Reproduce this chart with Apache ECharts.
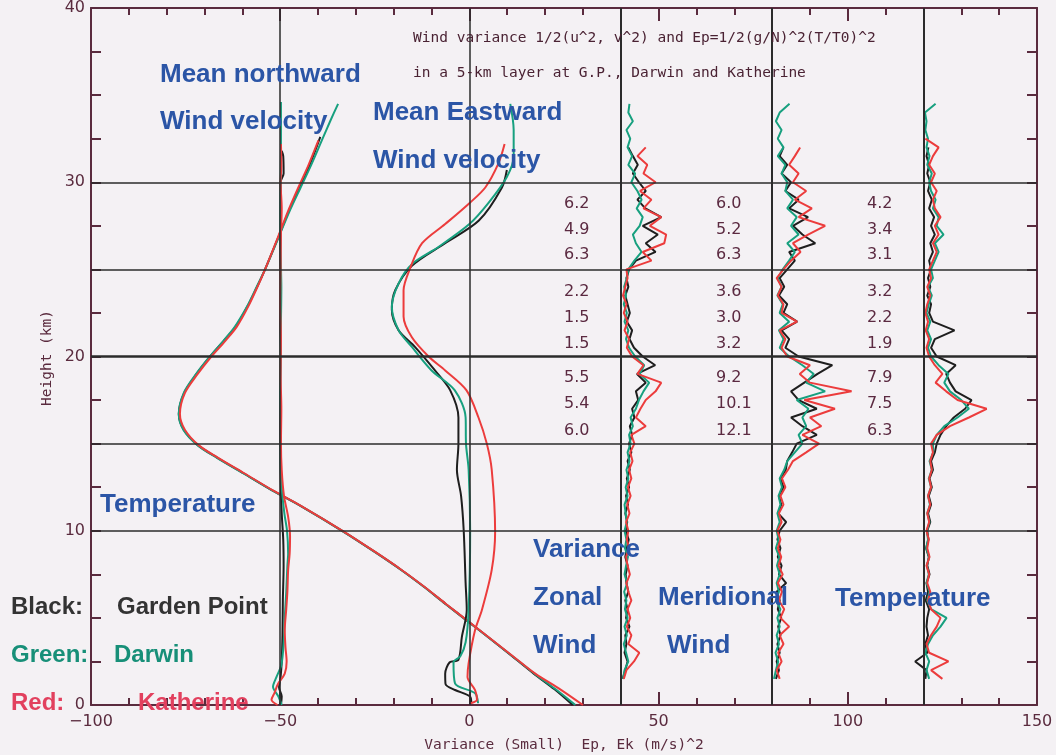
<!DOCTYPE html>
<html><head><meta charset="utf-8">
<script src="https://cdn.jsdelivr.net/npm/echarts/dist/echarts.min.js"></script>
<style>html,body{margin:0;padding:0;background:#f4f1f4}#c{width:1056px;height:755px}</style>
</head><body><div id="c"></div>
<script>
// ---------------- DATA ----------------
// Temperature profiles [height km, temperature °C]
const tempProfileBlack = [[0,27.3],[0.9,22.5],[1.8,17.0],[2.8,11.3],[3.8,5.5],[4.8,-0.4],[5.8,-6.3],[6.8,-12.1],[7.75,-18.0],[8.8,-25.1],[9.94,-33.2],[11.4,-44.4],[12.3,-52.0],[13.3,-59.7],[14.2,-66.7],[14.9,-71.7],[15.8,-75.5],[16.7,-76.8],[17.9,-75.4],[19.0,-72.1],[20.0,-68.5],[20.9,-64.9],[21.7,-61.8],[22.85,-58.7],[24.0,-56.1],[25.0,-54.0],[26.9,-50.4],[28.3,-47.8],[29.7,-44.9],[31.0,-42.2],[32.6,-39.4]];
const tempProfileGreen = [[0,28.0],[0.9,22.8],[1.8,17.2],[2.8,11.4],[3.8,5.5],[4.8,-0.4],[5.8,-6.3],[6.8,-12.1],[7.75,-18.0],[8.8,-25.1],[9.94,-33.2],[11.4,-44.4],[12.3,-52.0],[13.3,-59.8],[14.2,-66.8],[14.9,-71.8],[15.8,-75.6],[16.7,-76.8],[17.9,-75.5],[19.0,-72.2],[20.0,-68.6],[20.9,-65.0],[21.7,-62.0],[22.85,-58.8],[24.0,-56.2],[25.0,-54.0],[26.9,-50.3],[28.3,-47.6],[29.7,-44.6],[31.0,-41.8],[32.4,-39.0],[33.5,-36.8],[34.5,-34.7]];
const tempProfileRed = [[0,30.0],[0.9,24.0],[1.8,17.4],[2.8,11.5],[3.8,5.6],[4.8,-0.3],[5.8,-6.2],[6.8,-12.0],[7.75,-17.9],[8.8,-25.0],[9.94,-33.1],[11.4,-44.3],[12.3,-51.8],[13.3,-59.5],[14.2,-66.5],[14.9,-71.5],[15.8,-75.2],[16.7,-76.5],[17.9,-75.2],[19.0,-71.8],[20.0,-68.2],[20.9,-64.5],[21.7,-61.5],[22.85,-58.5],[24.0,-56.0],[25.0,-54.0],[26.9,-50.5],[28.3,-48.0],[29.7,-45.2],[31.0,-42.5],[32.4,-39.9]];

// Mean northward wind [height km, m/s]
const northBlack = [[0,0.2],[0.5,0.4],[1.0,-0.3],[1.6,0.1],[2.5,0.4],[4,0.6],[6,0.7],[8,0.9],[9.5,0.8],[11,0.4],[13,0.1],[15,0],[18,0],[20,0.1],[22,0],[24,0.1],[26,0],[28,0.1],[30,0.1],[30.5,0.9],[31.5,0.8],[31.8,0.4]];
const northGreen = [[0,0.4],[0.5,-0.5],[1.05,-1.9],[1.6,-1.0],[2.3,0.3],[3.5,0.9],[5,1.2],[6.5,1.6],[8.0,1.9],[8.7,2.1],[10,1.8],[11,1.1],[12.5,0.4],[14,0.1],[16,0.2],[18,0],[20,0.1],[22,0.2],[24,0.3],[26,0.1],[28,0],[30,0.1],[32,0.2],[34.6,0.2]];
const northRed = [[0,-0.7],[0.3,-2.3],[0.7,-1.5],[1.2,-0.6],[1.8,1.2],[2.5,1.7],[3.3,1.4],[4.3,1.2],[5.5,1.6],[6.5,1.9],[7.75,2.1],[8.7,2.5],[9.7,2.6],[10.8,2.1],[12.0,1.0],[13.5,0.4],[15,0.2],[17,0.3],[19,0.1],[21,0.2],[23,0],[25,0.1],[27,0.2],[28.5,0.4],[30,0.1],[31,0.3],[32.2,0.2]];

// Mean eastward wind [height km, m/s]
const eastBlack = [[0.1,0.5],[0.48,0.2],[0.86,-3.8],[1.2,-6.3],[1.8,-6.4],[2.45,-5.2],[2.6,-2.9],[3.9,-2.0],[5.45,-0.7],[7.0,-1.0],[10.0,-1.5],[12.0,-2.2],[13.5,-3.3],[15.0,-2.9],[16.5,-2.9],[18.07,-5.1],[19.2,-9.1],[20.55,-14.4],[21.5,-18.7],[22.7,-20.5],[23.8,-19.6],[25.2,-15.2],[26.5,-6.4],[27.8,2.5],[29.7,8.6],[30.7,9.9]];
const eastGreen = [[0.1,2.3],[0.67,1.5],[1.24,-3.8],[2.45,-4.2],[2.8,-2.4],[3.6,-1.0],[5.45,-0.2],[10.0,0.2],[13.5,-0.2],[15.0,-0.9],[16.5,-1.0],[18.07,-3.9],[19.2,-10.0],[20.55,-15.2],[21.5,-18.7],[22.85,-20.5],[24.2,-18.7],[25.3,-15.2],[26.3,-8.1],[27.6,0],[28.8,5.0],[30.3,9.9],[31.5,11.7],[33.0,11.7],[34.5,10.8]];
const eastRed = [[0.1,0.3],[0.3,2.0],[0.86,1.5],[1.6,-0.5],[2.4,-0.2],[4.3,1.5],[5.45,3.3],[7.75,5.9],[9.94,6.8],[13.5,5.9],[15.0,4.6],[16.5,2.4],[18.07,-0.8],[19.2,-6.4],[20.0,-10.8],[21.1,-15.2],[22.3,-17.4],[23.8,-17.4],[25.1,-15.6],[26.5,-12.5],[27.6,-6.4],[28.8,0],[29.7,4.2],[31.1,7.7],[32.2,9.3]];

// Heights of variance profiles (km)
const varHeights = [1.5,2.0,2.5,3.0,3.5,4.0,4.5,5.0,5.5,6.0,6.5,7.0,7.5,8.0,8.5,9.0,9.5,10.0,10.5,11.0,11.5,12.0,12.5,13.0,13.5,14.0,14.5,15.0,15.5,16.0,16.5,17.0,17.5,18.0,18.5,19.0,19.5,20.0,20.5,21.0,21.5,22.0,22.5,23.0,23.5,24.0,24.5,25.0,25.5,26.0,26.5,27.0,27.5,28.0,28.5,29.0,29.5,30.0,30.5,31.0,31.5,32.0,32.5,33.0,33.5,34.0,34.5,35.0];

// Zonal wind variance (small units)
const zonalVarBlack = [0.5,1.2,1.8,1.0,1.5,1.2,2.3,1.4,1.8,1.2,2.0,1.5,1.3,1.8,1.2,1.6,2.1,1.3,1.7,1.2,1.9,1.4,2.2,1.6,2.4,1.8,2.8,2.2,3.0,2.4,3.6,3.0,4.6,4.0,6.6,4.3,9.1,5.8,3.5,2.3,3.0,1.6,2.4,1.8,1.2,2.0,1.5,2.2,4.0,9.2,6.6,9.8,5.8,10.7,6.5,4.4,6.6,4.8,3.2,4.5,3.2,2.0,null,null,null,null,null,null];
const zonalVarGreen = [0.6,1.0,2.0,1.4,0.8,1.6,1.0,1.8,1.1,1.5,0.9,1.7,1.0,1.4,1.9,1.1,1.5,1.0,1.6,1.3,1.0,1.8,1.3,2.0,1.5,2.3,1.8,2.6,2.2,3.2,2.6,4.0,4.8,6.0,7.5,5.0,6.2,3.8,2.2,1.4,2.0,1.0,1.6,0.8,1.4,0.9,1.6,2.0,3.6,5.5,4.0,3.2,5.0,5.8,4.2,5.5,4.4,2.8,3.8,2.0,3.0,1.8,2.5,1.5,3.2,2.0,2.3,null];
const zonalVarRed = [0.8,1.5,3.5,4.9,2.0,2.8,1.6,2.5,1.8,2.8,2.0,1.5,2.4,1.8,1.4,2.2,1.6,2.0,1.4,2.3,1.7,2.6,1.9,2.8,2.2,3.1,2.5,3.6,2.8,6.6,4.0,5.2,6.6,9.2,10.7,4.4,6.0,3.0,1.6,2.2,1.0,1.8,0.8,1.5,0.6,1.2,1.8,1.5,8.1,5.8,11.5,12.0,7.7,10.7,6.0,8.1,5.1,9.2,6.0,7.0,4.4,6.6,null,null,null,null,null,null];

// Meridional wind variance
const merVarBlack = [1.0,1.8,1.2,2.0,1.4,2.2,1.6,2.4,1.5,2.0,1.2,3.7,1.8,2.5,1.5,2.2,1.4,2.0,3.7,1.6,2.4,1.8,3.0,2.2,3.6,4.0,5.3,6.5,11.8,8.0,5.0,11.8,7.0,5.0,8.5,12.0,15.9,7.0,3.5,4.5,2.5,6.6,3.0,4.0,1.8,3.2,2.0,4.0,6.0,4.5,11.4,8.0,5.5,9.5,4.5,7.0,3.5,5.0,2.5,4.0,2.0,3.0,null,null,null,null,null,null];
const merVarGreen = [0.5,1.0,1.6,0.9,1.8,1.2,2.0,1.4,2.2,1.0,1.8,1.2,2.0,1.3,1.9,1.0,1.7,1.2,2.0,1.4,2.2,1.7,2.6,2.0,3.2,4.0,6.0,8.0,7.0,9.0,8.0,9.6,6.5,14.0,9.0,11.0,8.0,4.5,2.0,3.0,1.8,4.5,2.0,2.8,1.4,2.5,1.5,2.8,4.5,6.0,4.0,7.0,5.0,6.5,4.0,5.5,3.5,4.0,2.5,3.5,1.5,3.0,1.5,2.5,1.0,2.0,4.6,null];
const merVarRed = [2.0,1.2,2.5,1.6,3.0,2.0,4.5,2.2,3.2,1.8,2.6,1.5,2.8,1.7,2.4,1.5,2.2,1.4,2.5,1.8,3.0,2.2,3.5,2.6,4.2,5.5,9.0,12.4,8.0,13.0,10.0,16.6,8.5,21.0,10.0,7.3,10.0,4.0,2.5,3.5,2.0,6.6,2.5,3.0,1.5,2.5,1.2,3.0,5.0,7.5,5.5,9.5,14.0,7.0,10.5,6.0,9.0,5.5,7.0,4.5,6.0,7.4,null,null,null,null,null,null];

// Temperature variance Ep
const epVarBlack = [0.5,0.8,-2.2,1.0,0.5,1.2,0.8,1.0,1.5,0.6,1.2,0.8,1.6,1.0,1.4,0.7,1.3,1.0,1.8,1.2,2.0,1.4,2.2,1.6,2.5,2.0,3.0,3.5,4.5,6.0,8.0,11.0,12.7,8.5,7.0,6.0,8.5,3.5,2.0,3.0,8.2,2.5,1.5,2.0,1.0,1.8,1.2,2.0,1.5,2.5,1.8,3.0,2.0,2.8,1.5,2.2,1.2,1.8,1.0,1.5,0.8,1.3,null,null,null,null,null,null];
const epVarGreen = [1.5,0.8,1.5,0.5,1.2,2.5,4.5,6.1,2.0,1.0,1.6,0.8,1.4,0.9,1.5,0.7,1.2,0.9,1.6,1.0,1.7,1.2,2.0,1.4,2.2,1.6,2.6,2.5,3.5,5.5,9.0,12.0,10.0,7.0,5.5,6.6,4.0,2.0,1.2,2.0,1.0,1.8,0.8,1.4,2.2,1.2,2.5,2.0,3.0,4.0,3.0,5.3,3.5,4.0,2.5,3.2,2.0,1.5,2.2,1.0,1.6,0.8,1.2,0.5,0.8,0.4,3.2,null];
const epVarRed = [5.0,2.0,6.6,1.5,0.8,2.0,3.5,4.5,2.0,1.2,1.8,1.0,1.5,0.8,1.6,1.0,1.4,0.8,1.5,1.0,1.8,1.2,2.0,1.5,2.2,1.8,2.5,2.0,3.5,7.0,12.0,16.7,9.0,6.0,3.2,5.0,3.0,1.5,0.8,1.5,0.6,1.2,0.5,1.0,1.8,1.0,2.0,1.5,2.5,3.5,2.5,4.0,3.0,4.5,3.0,2.5,3.5,2.0,3.0,1.5,2.5,4.0,0.5,null,null,null,null,null];

// Layer variance numbers (rows: 25-30, 20-25, 15-20 km; per station GP, Darwin, Katherine)
const zonalNumbers = ['6.2','4.9','6.3','2.2','1.5','1.5','5.5','5.4','6.0'];
const meridNumbers = ['6.0','5.2','6.3','3.6','3.0','3.2','9.2','10.1','12.1'];
const tempNumbers  = ['4.2','3.4','3.1','3.2','2.2','1.9','7.9','7.5','6.3'];

const xTickValues = [-100,-50,0,50,100,150];
const yTickValues = [0,10,20,30,40];

// ---------------- LAYOUT / STYLE ----------------
const C_BLACK = '#1e1e1e', C_GREEN = '#17a07f', C_RED = '#ec3c3c';
const AX = '#5a2b3e';
const gridXs = [-50, 0, 40, 80, 120];
const gridYs = [10, 15, 20, 25, 30];
const BASE_NORTH = -50, BASE_EAST = 0, BASE_ZVAR = 40, BASE_MVAR = 80, BASE_EVAR = 120;

function toProfile(pairs, base) { return pairs.map(p => [p[1] + base, p[0]]); }
function toVar(values, base) {
  const out = [];
  values.forEach((v, i) => { if (v !== null) out.push([v + base, varHeights[i]]); });
  return out;
}
function line(name, data, color, smooth, w) {
  return { name, type: 'line', data, symbol: 'none', showSymbol: false, smooth: smooth || false,
    lineStyle: { color, width: w || 2 }, itemStyle: { color }, z: 3, silent: true };
}

const series = [
  { type: 'line', data: [], silent: true, z: 1,
    markLine: { silent: true, symbol: ['none','none'], label: { show: false }, animation: false,
      lineStyle: { color: '#2b2b2b', width: 1.5, type: 'solid' },
      data: gridYs.map(v => ({ yAxis: v, lineStyle: { color: '#2b2b2b', width: v === 20 ? 2.5 : 1.5, type: 'solid' } }))
        .concat(gridXs.map(v => ({ xAxis: v, lineStyle: { color: '#2b2b2b', width: v >= 40 ? 2 : 1.5, type: 'solid' } }))) } },
  line('tB', toProfile(tempProfileBlack, 0), C_BLACK, 0.3, 2),
  line('tG', toProfile(tempProfileGreen, 0), C_GREEN, 0.3, 2),
  line('tR', toProfile(tempProfileRed, 0), C_RED, 0.3, 2),
  line('nB', toProfile(northBlack, BASE_NORTH), C_BLACK, 0.3),
  line('nG', toProfile(northGreen, BASE_NORTH), C_GREEN, 0.3),
  line('nR', toProfile(northRed, BASE_NORTH), C_RED, 0.3),
  line('eB', toProfile(eastBlack, BASE_EAST), C_BLACK, 0.3),
  line('eG', toProfile(eastGreen, BASE_EAST), C_GREEN, 0.3),
  line('eR', toProfile(eastRed, BASE_EAST), C_RED, 0.3),
  line('zB', toVar(zonalVarBlack, BASE_ZVAR), C_BLACK),
  line('zG', toVar(zonalVarGreen, BASE_ZVAR), C_GREEN),
  line('zR', toVar(zonalVarRed, BASE_ZVAR), C_RED),
  line('mB', toVar(merVarBlack, BASE_MVAR), C_BLACK),
  line('mG', toVar(merVarGreen, BASE_MVAR), C_GREEN),
  line('mR', toVar(merVarRed, BASE_MVAR), C_RED),
  line('pB', toVar(epVarBlack, BASE_EVAR), C_BLACK),
  line('pG', toVar(epVarGreen, BASE_EVAR), C_GREEN),
  line('pR', toVar(epVarRed, BASE_EVAR), C_RED)
];

// ---------- text annotations ----------
const BLUE = '#2b55a6';
const g = [];
function txt(text, x, y, opt) {
  const s = Object.assign({ text, fill: AX, fontSize: 16, fontFamily: '"DejaVu Sans"', fontWeight: 'normal',
    textAlign: 'left', textVerticalAlign: 'middle', align: 'left', verticalAlign: 'middle' }, opt || {});
  if (opt && opt.textAlign) s.align = opt.textAlign;
  g.push({ type: 'text', x, y, z: 100, rotation: (opt && opt.rot) || 0, style: s, silent: true });
}
const blue = { fill: BLUE, fontSize: 26, fontWeight: 'bold', fontFamily: '"Liberation Sans", Arial' };
txt('Mean northward', 160, 75, blue);
txt('Wind velocity', 160, 122, blue);
txt('Mean Eastward', 373, 113, blue);
txt('Wind velocity', 373, 161, blue);
txt('Temperature', 100, 505, blue);
txt('Variance', 533, 550, blue);
txt('Zonal', 533, 598, blue);
txt('Wind', 533, 646, blue);
txt('Meridional', 658, 598, blue);
txt('Wind', 667, 646, blue);
txt('Temperature', 835, 599, blue);
const leg = { fontSize: 24, fontWeight: 'bold', fontFamily: '"Liberation Sans", Arial' };
txt('Black:', 11, 607, Object.assign({}, leg, { fill: '#333333' }));
txt('Garden Point', 117, 607, Object.assign({}, leg, { fill: '#333333' }));
txt('Green:', 11, 655, Object.assign({}, leg, { fill: '#178f78' }));
txt('Darwin', 114, 655, Object.assign({}, leg, { fill: '#178f78' }));
txt('Red:', 11, 703, Object.assign({}, leg, { fill: '#e2405e' }));
txt('Katherine', 138, 703, Object.assign({}, leg, { fill: '#e2405e' }));

const mono = { fontFamily: '"DejaVu Sans Mono"', fontSize: 14.5, fill: '#4a2233' };
txt('Wind variance 1/2(u^2, v^2) and Ep=1/2(g/N)^2(T/T0)^2', 413, 38, mono);
txt('in a 5-km layer at G.P., Darwin and Katherine', 413, 73, mono);
txt('Variance (Small)  Ep, Ek (m/s)^2', 564, 745, Object.assign({}, mono, { textAlign: 'center', fill: AX }));
txt('Height (km)', 47, 358, Object.assign({}, mono, { textAlign: 'center', fill: AX, rot: Math.PI / 2 }));

const rowYs = [204, 230, 255, 292, 318, 344, 378, 404, 431];
const colXs = [564, 716, 867];
const numStyle = { fontSize: 16, fill: '#5b2a41', fontFamily: '"DejaVu Sans"' };
[zonalNumbers, meridNumbers, tempNumbers].forEach((arr, c) => arr.forEach((t, r) => txt(t, colXs[c], rowYs[r], numStyle)));

// ---------------- CHART ----------------
const axisCommon = {
  type: 'value', axisLine: { show: true, onZero: false, lineStyle: { color: AX, width: 2 } },
  splitLine: { show: false }
};
const option = {
  backgroundColor: '#f4f1f4',
  animation: false,
  grid: { left: 91, right: 19, top: 8, bottom: 50, containLabel: false },
  xAxis: [
    Object.assign({}, axisCommon, { min: -100, max: 150, interval: 50, position: 'bottom',
      axisTick: { show: true, inside: true, length: 13, lineStyle: { color: AX, width: 2 } },
      minorTick: { show: true, splitNumber: 5, length: 7, lineStyle: { color: AX, width: 2 } },
      axisLabel: { show: true, color: AX, fontSize: 16, fontFamily: '"DejaVu Sans"', margin: 9,
        formatter: v => xTickValues.indexOf(v) >= 0 ? String(v).replace('-', '\u2212') : '' } }),
    Object.assign({}, axisCommon, { min: -100, max: 150, interval: 50, position: 'top',
      axisTick: { show: true, inside: true, length: 13, lineStyle: { color: AX, width: 2 } },
      minorTick: { show: true, splitNumber: 5, length: 7, lineStyle: { color: AX, width: 2 } },
      axisLabel: { show: false } })
  ],
  yAxis: [
    Object.assign({}, axisCommon, { min: 0, max: 40, interval: 10, position: 'left',
      axisTick: { show: true, inside: true, length: 10, lineStyle: { color: AX, width: 2 } },
      minorTick: { show: true, splitNumber: 4, length: 10, lineStyle: { color: AX, width: 2 } },
      axisLabel: { show: true, color: AX, fontSize: 16, fontFamily: '"DejaVu Sans"', margin: 6,
        formatter: v => yTickValues.indexOf(v) >= 0 ? String(v) : '' } }),
    Object.assign({}, axisCommon, { min: 0, max: 40, interval: 10, position: 'right',
      axisTick: { show: true, inside: true, length: 10, lineStyle: { color: AX, width: 2 } },
      minorTick: { show: true, splitNumber: 4, length: 10, lineStyle: { color: AX, width: 2 } },
      axisLabel: { show: false } })
  ],
  series: series,
  graphic: g
};
const chart = echarts.init(document.getElementById('c'), null, { renderer: 'canvas' });
chart.setOption(option);
</script></body></html>
